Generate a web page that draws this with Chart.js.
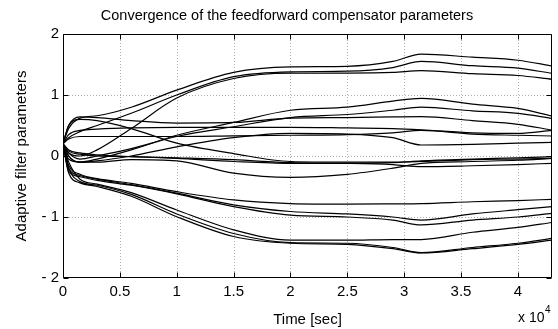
<!DOCTYPE html>
<html>
<head>
<meta charset="utf-8">
<script src="https://cdn.jsdelivr.net/npm/chart.js@4.4.0/dist/chart.umd.min.js"></script>
<style>
  html, body { margin: 0; padding: 0; background: #fff; }
  canvas { display: block; }
</style>
</head>
<body>
<canvas id="grafico" width="558" height="329"></canvas>
<script>
// tempo (x 10^4 s) em que cada curva foi lida
const tempo = [0, 0.05, 0.15, 0.3, 0.6, 1.0, 1.5, 2.0, 2.5, 2.9, 3.15, 3.6, 4.0, 4.3];

// parametros do filtro adaptativo
const p01 = [0.2, 0.45, 0.62, 0.66, 0.8, 1.08, 1.37, 1.46, 1.47, 1.55, 1.67, 1.62, 1.57, 1.475];
const p02 = [0.2, 0.3, 0.4, 0.5, 0.7, 1.0, 1.30, 1.38, 1.39, 1.45, 1.55, 1.48, 1.44, 1.355];
const p03 = [0.2, 0.05, 0.0, 0.1, 0.45, 0.95, 1.27, 1.36, 1.36, 1.37, 1.40, 1.35, 1.32, 1.257];
const p04 = [0.2, 0.0, -0.1, -0.05, 0.1, 0.34, 0.55, 0.75, 0.80, 0.90, 0.945, 0.85, 0.78, 0.656];
const p05 = [0.2, 0.05, -0.05, 0.0, 0.12, 0.32, 0.48, 0.63, 0.68, 0.75, 0.80, 0.74, 0.70, 0.617];
const p06 = [0.2, 0.5, 0.64, 0.63, 0.58, 0.54, 0.55, 0.62, 0.63, 0.64, 0.645, 0.58, 0.52, 0.426];
const p07 = [0.2, 0.35, 0.42, 0.44, 0.46, 0.47, 0.47, 0.47, 0.46, 0.45, 0.43, 0.38, 0.37, 0.42];
const p08 = [0.2, 0.28, 0.32, 0.32, 0.32, 0.32, 0.33, 0.34, 0.35, 0.38, 0.42, 0.36, 0.34, 0.328];
const p09 = [0.2, 0.5, 0.6, 0.58, 0.45, 0.21, 0.04, -0.09, -0.1, -0.1, -0.09, -0.06, -0.05, -0.04];
const p10 = [0.2, 0.0, -0.1, -0.08, 0.0, 0.15, 0.30, 0.37, 0.36, 0.30, 0.18, 0.19, 0.21, 0.224];
const p11 = [0.2, 0.08, 0.03, 0.0, -0.01, -0.03, -0.06, -0.11, -0.12, -0.14, -0.175, -0.16, -0.14, -0.12];
const p12 = [0.2, 0.1, 0.05, 0.02, -0.01, -0.04, -0.09, -0.12, -0.12, -0.11, -0.08, -0.05, -0.03, -0.01];
const p13 = [0.2, -0.05, -0.1, -0.1, -0.06, -0.08, -0.28, -0.35, -0.3, -0.2, -0.12, -0.09, -0.07, -0.04];
const p14 = [0.2, -0.15, -0.3, -0.37, -0.45, -0.585, -0.72, -0.78, -0.79, -0.785, -0.78, -0.75, -0.73, -0.71];
const p15 = [0.2, -0.2, -0.32, -0.38, -0.47, -0.61, -0.80, -0.91, -0.95, -1.0, -1.05, -0.95, -0.88, -0.83];
const p16 = [0.2, -0.25, -0.34, -0.4, -0.48, -0.62, -0.83, -0.97, -1.0, -1.05, -1.13, -1.05, -1.0, -0.94];
const p17 = [0.2, -0.1, -0.38, -0.46, -0.6, -0.885, -1.21, -1.38, -1.38, -1.37, -1.37, -1.25, -1.17, -1.09];
const p18 = [0.2, -0.2, -0.42, -0.48, -0.63, -0.95, -1.27, -1.42, -1.43, -1.5, -1.585, -1.5, -1.43, -1.35];
const p19 = [0.2, -0.28, -0.44, -0.5, -0.66, -0.995, -1.32, -1.43, -1.45, -1.52, -1.59, -1.52, -1.45, -1.38];

const ticksX = [0, 0.5, 1, 1.5, 2, 2.5, 3, 3.5, 4];
const ticksY = [-2, -1, 0, 1, 2];

const titulo = 'Convergence of the feedforward compensator parameters';
const fonte = "'Liberation Sans', Arial, sans-serif";

const curvas = [p01, p02, p03, p04, p05, p06, p07, p08, p09, p10,
                p11, p12, p13, p14, p15, p16, p17, p18, p19];

const datasets = curvas.map(function (c) {
    return {
        data: c.map((v, i) => ({ x: tempo[i], y: v })),
        borderColor: '#000',
        borderWidth: 1.2,
        pointRadius: 0,
        fill: false,
        cubicInterpolationMode: 'monotone',
    };
});

// grade pontilhada, caixa e ticks para dentro (estilo MATLAB)
const estiloMatlab = {
    id: 'estiloMatlab',
    beforeDatasetsDraw(chart) {
        const { ctx, chartArea: a, scales: { x, y } } = chart;
        ctx.save();
        ctx.strokeStyle = '#b0b0b0';
        ctx.lineWidth = 1;
        ctx.setLineDash([1, 2]);
        ctx.beginPath();
        ticksX.forEach(v => {
            if (v === 0) return;
            const px = Math.round(x.getPixelForValue(v)) + 0.5;
            ctx.moveTo(px, a.top);
            ctx.lineTo(px, a.bottom);
        });
        ticksY.forEach(v => {
            if (v === -2 || v === 2) return;
            const py = Math.round(y.getPixelForValue(v)) + 0.5;
            ctx.moveTo(a.left, py);
            ctx.lineTo(a.right, py);
        });
        ctx.stroke();
        ctx.restore();
    },
    afterDatasetsDraw(chart) {
        const { ctx, chartArea: a, scales: { x, y } } = chart;
        const L = Math.round(a.left) + 0.5, R = Math.round(a.right) - 0.5;
        const T = Math.round(a.top) + 0.5, B = Math.round(a.bottom) - 0.5;
        ctx.save();
        ctx.strokeStyle = '#000';
        ctx.lineWidth = 1;
        ctx.beginPath();
        ctx.rect(L, T, R - L, B - T);
        ticksX.forEach(v => {
            const px = Math.round(x.getPixelForValue(v)) + 0.5;
            ctx.moveTo(px, B); ctx.lineTo(px, B - 5);
            ctx.moveTo(px, T); ctx.lineTo(px, T + 5);
        });
        ticksY.forEach(v => {
            const py = Math.round(y.getPixelForValue(v)) + 0.5;
            ctx.moveTo(L, py); ctx.lineTo(L + 5, py);
            ctx.moveTo(R, py); ctx.lineTo(R - 5, py);
        });
        ctx.stroke();

        // titulo
        ctx.fillStyle = '#000';
        ctx.font = '14.5px ' + fonte;
        ctx.textAlign = 'center';
        ctx.textBaseline = 'middle';
        ctx.fillText(titulo, 287, 16);

        // multiplicador do eixo x
        ctx.textAlign = 'left';
        ctx.textBaseline = 'alphabetic';
        ctx.font = '14px ' + fonte;
        ctx.fillText('x 10', 518, 322);
        ctx.font = '10px ' + fonte;
        ctx.fillText('4', 545, 313);
        ctx.restore();
    }
};

const ctx = document.getElementById('grafico').getContext('2d');
const grafico = new Chart(ctx, {
    type: 'line',
    data: { datasets: datasets },
    options: {
        responsive: false,
        animation: false,
        layout: { padding: { left: 0, right: 6, top: 34, bottom: 0 } },
        plugins: {
            legend: { display: false },
            tooltip: { enabled: false },
        },
        scales: {
            x: {
                type: 'linear',
                min: 0,
                max: 4.3,
                afterFit: s => { s.height = 51; },
                ticks: {
                    stepSize: 0.5,
                    includeBounds: false,
                    color: '#000',
                    padding: 5,
                    maxRotation: 0,
                    font: { family: fonte, size: 15 },
                    callback: v => String(v),
                },
                grid: { display: false, drawTicks: false },
                border: { display: false },
                title: {
                    display: true,
                    text: 'Time [sec]',
                    color: '#000',
                    font: { family: fonte, size: 15 },
                    padding: { top: 0, bottom: 0 },
                },
            },
            y: {
                min: -2,
                max: 2,
                afterFit: s => { s.width = 63; },
                ticks: {
                    stepSize: 1,
                    color: '#000',
                    padding: 4,
                    font: { family: fonte, size: 15 },
                    callback: v => (v < 0 ? '- ' + Math.abs(v) : String(v)),
                },
                grid: { display: false, drawTicks: false },
                border: { display: false },
                title: {
                    display: true,
                    text: 'Adaptive filter parameters',
                    color: '#000',
                    font: { family: fonte, size: 15 },
                    padding: { top: 13, bottom: 0 },
                },
            },
        },
    },
    plugins: [estiloMatlab],
});
</script>
</body>
</html>
